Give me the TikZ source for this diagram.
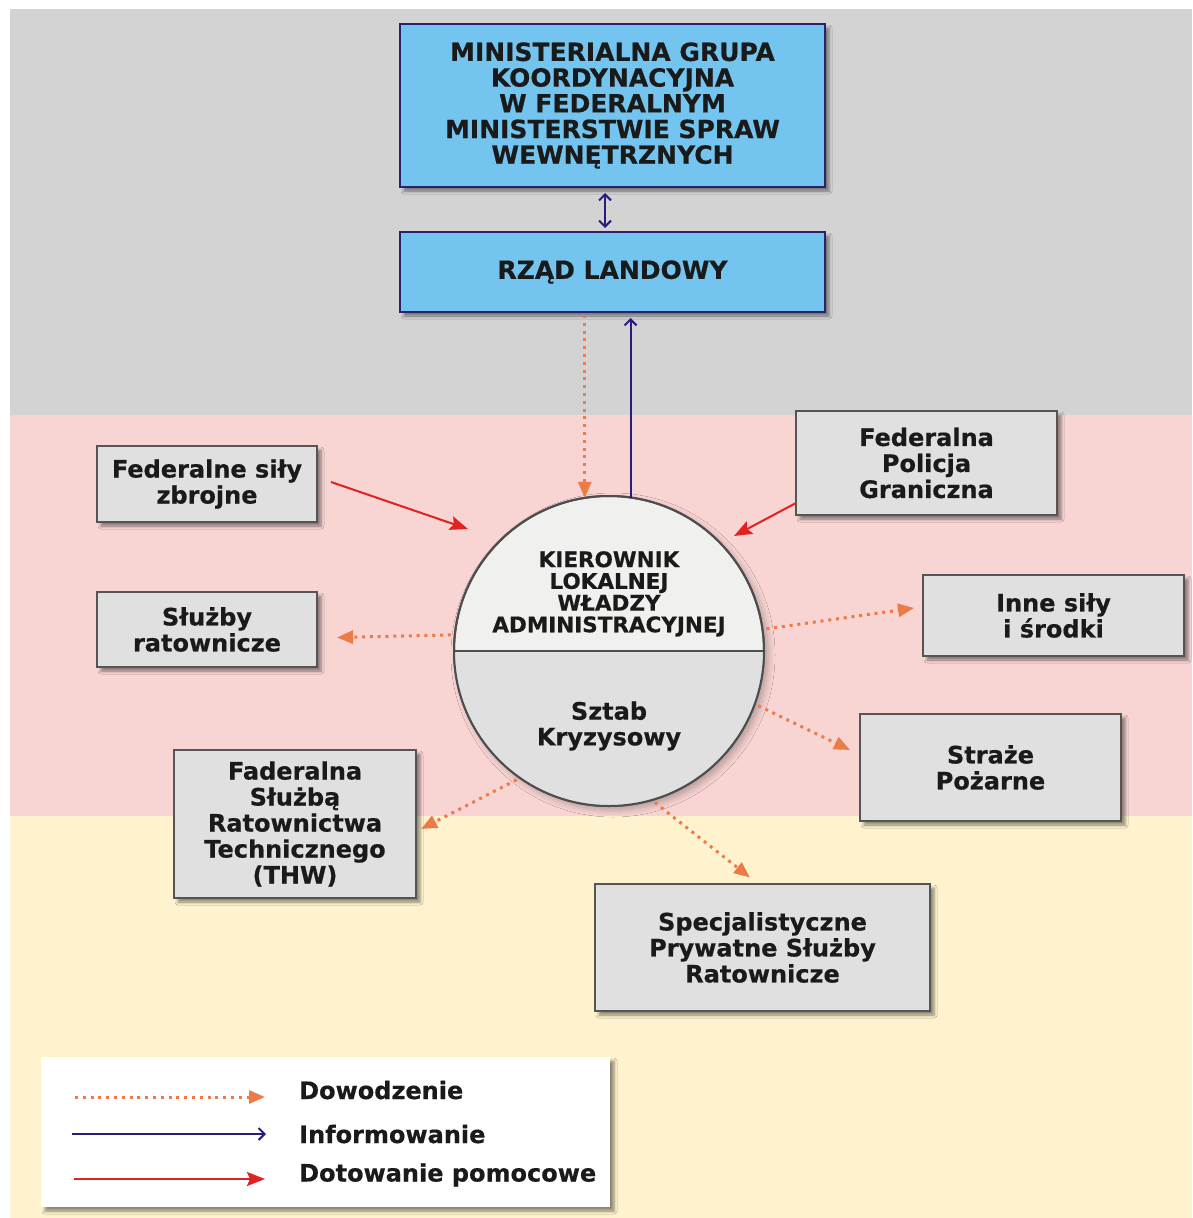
\documentclass[tikz,border=0pt]{standalone}
\usepackage{fontspec}
\setmainfont{DejaVu Sans}[BoldFeatures={FakeBold=0.5}]
\usetikzlibrary{arrows.meta,shadows.blur}

\definecolor{bandGray}{HTML}{D3D3D3}
\definecolor{bandPink}{HTML}{F8D4D3}
\definecolor{bandYellow}{HTML}{FEF3CE}
\definecolor{skyFill}{HTML}{73C4EF}
\definecolor{navyLine}{HTML}{2A2270}
\definecolor{greyFill}{HTML}{E0E0E0}
\definecolor{greyLine}{HTML}{555555}
\definecolor{discTop}{HTML}{F0F0EE}
\definecolor{discLow}{HTML}{E0E0E0}
\definecolor{discLine}{HTML}{4D4D4D}
\definecolor{cmdOrange}{HTML}{EC7B48}
\definecolor{aidRed}{HTML}{E02222}
\definecolor{infoNavy}{HTML}{2B1C7C}
\definecolor{inkText}{HTML}{1A1A1A}

\newcommand\labfont[2]{\fontsize{#1}{#2}\selectfont\bfseries}

\begin{document}
\begin{tikzpicture}[x=1pt,y=-1pt,
  every node/.style={text=inkText},
  softshadow/.style={blur shadow={shadow xshift=4pt,shadow yshift=-4pt,
      shadow blur radius=3pt,shadow opacity=45}},
  skybox/.style={draw=navyLine,line width=1.8pt,fill=skyFill,softshadow,
      align=center,inner sep=0pt,outer sep=0pt},
  greybox/.style={draw=greyLine,line width=1.8pt,fill=greyFill,softshadow,
      align=center,inner sep=0pt,outer sep=0pt,font=\labfont{24}{26}},
  cmd/.style={cmdOrange,line width=3pt,dash pattern=on 3pt off 4.8pt,
      -{Triangle[length=16pt,width=13pt]}},
  aid/.style={aidRed,line width=2pt,-{Stealth[length=18pt,width=14pt,inset=3pt]}},
  info/.style={infoNavy,line width=2pt,-{Straight Barb[length=6pt,width=12pt]}},
  legtext/.style={anchor=base west,inner sep=0pt,font=\labfont{24}{26}}
]
\useasboundingbox (0,0) rectangle (1192,1218);

% background bands
\fill[white] (0,0) rectangle (1192,1218);
\fill[bandGray] (10,9) rectangle (1192,415);
\fill[bandPink] (10,415) rectangle (1192,816);
\fill[bandYellow] (10,816) rectangle (1192,1218);

% federal and state level
\node[skybox,minimum width=425pt,minimum height=163pt,font=\labfont{25}{25.7}]
  (mgk) at (612.5,105.5)
  {MINISTERIALNA GRUPA\\KOORDYNACYJNA\\W FEDERALNYM\\MINISTERSTWIE SPRAW\\WEWNĘTRZNYCH};
\node[skybox,minimum width=425pt,minimum height=80pt,font=\labfont{25}{25.7}]
  (rzad) at (612.5,272) {RZĄD LANDOWY};

% local command disc
\node[circle,draw=discLine,line width=2pt,fill=discTop,minimum size=310pt,
  inner sep=0pt,outer sep=0pt,
  blur shadow={shadow xshift=4pt,shadow yshift=-4pt,shadow blur radius=7pt,shadow opacity=28}]
  (kier) at (609,651) {};
\begin{scope}
  \clip (440,651) rectangle (780,820);
  \fill[discLow] (kier.center) circle[radius=155];
\end{scope}
\draw[discLine,line width=2pt] (kier.west) -- (kier.east);
\draw[discLine,line width=2pt] (kier.center) circle[radius=155];
\node[font=\labfont{21.5}{21.7},align=center,anchor=north,inner sep=0pt]
  (kierT) at (609,551) {KIEROWNIK\\LOKALNEJ\\WŁADZY\\ADMINISTRACYJNEJ};
\node[font=\labfont{24}{25.7},align=center,inner sep=0pt]
  (sztab) at (609,726) {Sztab\\Kryzysowy};

% surrounding services
\node[greybox,minimum width=220pt,minimum height=76pt] (fsz) at (207,484) {Federalne siły\\zbrojne};
\node[greybox,minimum width=220pt,minimum height=75pt] (sr) at (207,629.5) {Służby\\ratownicze};
\node[greybox,minimum width=261pt,minimum height=104pt] (fpg) at (926.5,463) {Federalna\\Policja\\Graniczna};
\node[greybox,minimum width=261pt,minimum height=81pt] (inne) at (1053.5,615.5) {Inne siły\\i środki};
\node[greybox,minimum width=261pt,minimum height=107pt] (straze) at (990.5,767.5) {Straże\\Pożarne};
\node[greybox,minimum width=242pt,minimum height=148pt] (thw) at (295,824)
  {Faderalna\\Służbą\\Ratownictwa\\Technicznego\\(THW)};
\node[greybox,minimum width=335pt,minimum height=127pt] (spec) at (762.5,947.5)
  {Specjalistyczne\\Prywatne Służby\\Ratownicze};

% arrow end points
\coordinate (gapX) at (605,0);
\coordinate (tipSR) at (337,637.5);
\coordinate (tipInne) at (914,608);
\coordinate (tipStraze) at (850,750);
\coordinate (tipThw) at (421,829);
\coordinate (tipSpec) at (750,877.5);
\coordinate (tipFsz) at (468,529);
\coordinate (tipFpg) at (734,536);

% information flow
\draw[info,{Straight Barb[length=6pt,width=12pt]}-{Straight Barb[length=6pt,width=12pt]},
  shorten <=6pt,shorten >=4pt] (mgk.south -| gapX) -- (rzad.north -| gapX);
\draw[info,shorten >=6pt] (kier.82) -- (kier.82 |- rzad.south);

% command
\draw[cmd,shorten <=3pt] (kier.99 |- rzad.south) -- (kier.99);
\draw[cmd,shorten <=4pt] (kier.174) -- (tipSR);
\draw[cmd,shorten <=4pt] (kier.8) -- (tipInne);
\draw[cmd,shorten <=4pt] (kier.340) -- (tipStraze);
\draw[cmd,shorten <=4pt] (kier.235) -- (tipThw);
\draw[cmd,shorten <=4pt] (kier.286) -- (tipSpec);

% assistance
\draw[aid] ([xshift=14pt,yshift=2pt]fsz.east) -- (tipFsz);
\draw[aid] ([yshift=-40pt]fpg.west) -- (tipFpg);

% legend
\node[fill=white,minimum width=569pt,minimum height=150pt,inner sep=0pt,softshadow]
  (legend) at (325.5,1132) {};
\coordinate (lgA0) at (75,1097);  \coordinate (lgA1) at (265,1097);
\coordinate (lgB0) at (72,1134);  \coordinate (lgB1) at (266,1134);
\coordinate (lgC0) at (74,1179);  \coordinate (lgC1) at (265,1179);
\draw[cmd] (lgA0) -- (lgA1);
\draw[info] (lgB0) -- (lgB1);
\draw[aid] (lgC0) -- (lgC1);
\node[legtext] (lgTA) at (299,1099) {Dowodzenie};
\node[legtext] (lgTB) at (299,1143) {Informowanie};
\node[legtext] (lgTC) at (299,1181.5) {Dotowanie pomocowe};
\end{tikzpicture}
\end{document}
